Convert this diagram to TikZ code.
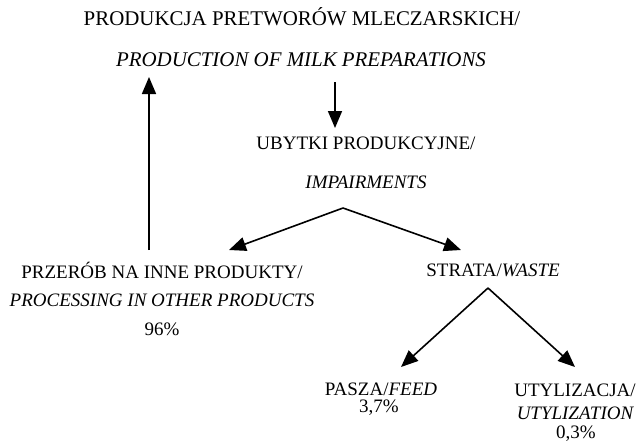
\documentclass[tikz,border=0pt]{standalone}
\usepackage{fontspec}
\setmainfont{Liberation Serif}
\usetikzlibrary{arrows.meta}
\begin{document}
\begin{tikzpicture}[x=1pt,y=-1pt,
  lbl/.style={inner sep=0pt,font=\fontsize{19}{22}\selectfont},
  big/.style={inner sep=0pt,font=\fontsize{20.9}{24}\selectfont},
  conn/.style={line width=1.6pt,-{Triangle[length=17pt,width=14pt]}}]
\useasboundingbox (0,0) rectangle (638,442);
\node[big] (t1) at (302,17) {PRODUKCJA PRETWORÓW MLECZARSKICH/};
\node[big] (t2) at (301,60) {\itshape PRODUCTION OF MILK PREPARATIONS};
\node[lbl] (u1) at (366,143) {UBYTKI PRODUKCYJNE/};
\node[lbl] (u2) at (366,182) {\itshape IMPAIRMENTS};
\node[lbl] (p1) at (162,270) {PRZERÓB NA INNE PRODUKTY/};
\node[lbl] (p2) at (162,300) {\itshape PROCESSING IN OTHER PRODUCTS};
\node[lbl] (p3) at (162,329) {96\%};
\node[lbl] (s1) at (493,270) {STRATA/\textit{WASTE}};
\node[lbl] (f1) at (381,389) {PASZA/\textit{FEED}};
\node[lbl] (f2) at (379,408) {3,7\%};
\node[lbl] (z1) at (575,390) {UTYLIZACJA/};
\node[lbl] (z2) at (575,413) {\itshape UTYLIZATION};
\node[lbl] (z3) at (576,434) {0,3\%};
\coordinate (upS) at (149,250);
\coordinate (upE) at (149,77);
\coordinate (dnS) at (335,82);
\coordinate (dnE) at (335,128);
\coordinate (a1) at (343,208);
\coordinate (a1l) at (229,250);
\coordinate (a1r) at (461,250);
\coordinate (a2) at (488,288);
\coordinate (a2l) at (401,367);
\coordinate (a2r) at (575,367);
\draw[conn] (upS) -- (upE);
\draw[conn] (dnS) -- (dnE);
\draw[conn] (a1) -- (a1l);
\draw[conn] (a1) -- (a1r);
\draw[conn] (a2) -- (a2l);
\draw[conn] (a2) -- (a2r);
\end{tikzpicture}
\end{document}
